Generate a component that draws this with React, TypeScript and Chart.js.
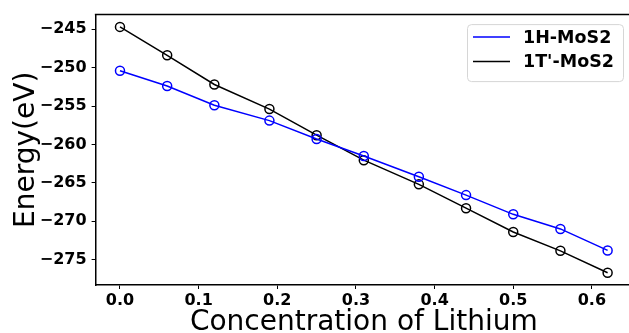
import React, { useEffect, useRef } from "react";
import { Chart, registerables } from "chart.js";

Chart.register(...registerables);

const concentration = [0, 0.06, 0.12, 0.19, 0.25, 0.31, 0.38, 0.44, 0.5, 0.56, 0.62];
const energy1H = [-250.4, -252.4, -254.9, -256.9, -259.3, -261.5, -264.2, -266.6, -269.1, -271.0, -273.8];
const energy1T = [-244.7, -248.4, -252.2, -255.4, -258.8, -262.05, -265.2, -268.3, -271.4, -273.85, -276.7];
const seriesLabels = ["1H-MoS2", "1T'-MoS2"];
const seriesColors = ["#0000ff", "#000000"];
const xTicks = [0, 0.1, 0.2, 0.3, 0.4, 0.5, 0.6];
const yTicks = [-275, -270, -265, -260, -255, -250, -245];
const xTitle = "Concentration of Lithium";
const yTitle = "Energy(eV)";

const FONT = "'DejaVu Sans', sans-serif";

const framePlugin = {
  id: "frame",
  afterDraw(chart: any) {
    const { ctx, chartArea } = chart;
    const { left, right, top, bottom } = chartArea;
    ctx.save();
    // top spine
    ctx.strokeStyle = "#000";
    ctx.lineWidth = 1.5;
    ctx.beginPath();
    ctx.moveTo(left - 0.75, top);
    ctx.lineTo(right, top);
    ctx.stroke();

    // axis titles
    ctx.fillStyle = "#000";
    ctx.font = `28px ${FONT}`;
    ctx.textAlign = "center";
    ctx.textBaseline = "alphabetic";
    ctx.fillText(xTitle, (left + right) / 2, 330);
    ctx.save();
    ctx.translate(34, (top + bottom) / 2);
    ctx.rotate(-Math.PI / 2);
    ctx.fillText(yTitle, 0, 0);
    ctx.restore();

    // legend
    const bx = right - 165;
    const by = top + 9.5;
    const bw = 156;
    const bh = 57;
    ctx.fillStyle = "rgba(255,255,255,0.8)";
    ctx.strokeStyle = "#d6d6d6";
    ctx.lineWidth = 1;
    ctx.beginPath();
    (ctx as any).roundRect(bx + 0.5, by + 0.5, bw, bh, 4);
    ctx.fill();
    ctx.stroke();
    ctx.font = `bold 17.5px ${FONT}`;
    ctx.textAlign = "left";
    ctx.textBaseline = "middle";
    seriesLabels.forEach((lab, i) => {
      const yy = by + 13 + i * 24.5;
      ctx.strokeStyle = seriesColors[i];
      ctx.lineWidth = 1.5;
      ctx.beginPath();
      ctx.moveTo(bx + 6, yy);
      ctx.lineTo(bx + 43, yy);
      ctx.stroke();
      ctx.fillStyle = "#000";
      ctx.fillText(lab, bx + 56, yy + 1);
    });
    ctx.restore();
  },
};

export default function App() {
  const ref = useRef<HTMLCanvasElement>(null);
  useEffect(() => {
    if (!ref.current) return;
    const mk = (ys: number[]) => concentration.map((x, i) => ({ x, y: ys[i] }));
    const chart = new Chart(ref.current, {
      type: "line",
      data: {
        datasets: [
          {
            label: seriesLabels[0],
            data: mk(energy1H),
            borderColor: seriesColors[0],
            backgroundColor: "transparent",
            borderWidth: 1.5,
            pointRadius: 4.5,
            pointBorderWidth: 1.5,
            pointBorderColor: seriesColors[0],
            pointBackgroundColor: "transparent",
            tension: 0,
          },
          {
            label: seriesLabels[1],
            data: mk(energy1T),
            borderColor: seriesColors[1],
            backgroundColor: "transparent",
            borderWidth: 1.5,
            pointRadius: 4.5,
            pointBorderWidth: 1.5,
            pointBorderColor: seriesColors[1],
            pointBackgroundColor: "transparent",
            tension: 0,
          },
        ],
      },
      options: {
        responsive: false,
        animation: false,
        devicePixelRatio: 1,
        layout: { padding: { left: 0, top: 13, right: 8, bottom: 0 } },
        plugins: { legend: { display: false }, tooltip: { enabled: false } },
        scales: {
          x: {
            type: "linear",
            min: -0.031,
            max: 0.651,
            afterBuildTicks: (s: any) => {
              s.ticks = xTicks.map((v) => ({ value: v }));
            },
            afterFit: (s: any) => {
              s.height = 48;
            },
            ticks: {
              color: "#000",
              font: { family: FONT, size: 16, weight: "bold" },
              padding: 2,
              maxRotation: 0,
              callback: (v: any) => Number(v).toFixed(1),
            },
            grid: {
              display: true,
              drawOnChartArea: false,
              drawTicks: true,
              tickLength: 4,
              color: "#000",
              lineWidth: 1,
            },
            border: { display: true, color: "#000", width: 1.5 },
          },
          y: {
            type: "linear",
            min: -278.3,
            max: -243.1,
            afterBuildTicks: (s: any) => {
              s.ticks = yTicks.map((v) => ({ value: v }));
            },
            afterFit: (s: any) => {
              s.width = 95.6;
            },
            ticks: {
              color: "#000",
              font: { family: FONT, size: 16, weight: "bold" },
              padding: 5,
              callback: (v: any) => (Number(v) < 0 ? "\u2212" + Math.abs(Number(v)) : String(v)),
            },
            grid: {
              display: true,
              drawOnChartArea: false,
              drawTicks: true,
              tickLength: 4,
              color: "#000",
              lineWidth: 1,
            },
            border: { display: true, color: "#000", width: 1.5 },
          },
        },
      },
      plugins: [framePlugin],
    });
    return () => chart.destroy();
  }, []);
  return (
    <div
      style={{
        position: "fixed",
        left: 0,
        top: 0,
        width: 629,
        height: 333,
        overflow: "hidden",
        background: "#fff",
      }}
    >
      <canvas ref={ref} width={640} height={333} style={{ width: 640, height: 333, display: "block" }} />
    </div>
  );
}
